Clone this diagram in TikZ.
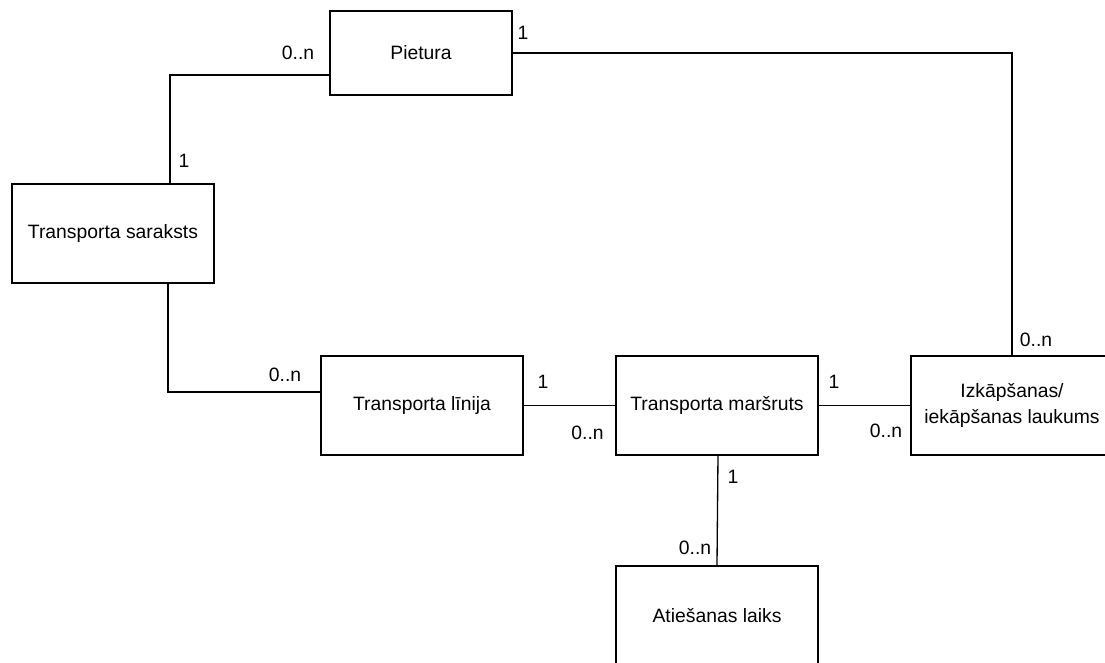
\documentclass[tikz,border=0pt]{standalone}
\usepackage{fontspec}
\setmainfont{Liberation Sans}
\usetikzlibrary{positioning,calc}

\begin{document}
\begin{tikzpicture}[
  font=\fontsize{11}{15}\selectfont,
  line width=0.75pt,
  entity/.style={draw,rectangle,align=center,inner sep=0pt,
    minimum width=4.04cm,minimum height=1.98cm},
  mult/.style={inner sep=0pt},
]
\clip (0,0) rectangle (22.1,13.24);

% entities
\node[entity,minimum width=3.64cm,minimum height=1.68cm] (pietura) at (8.42,12.18) {Pietura};
\node[entity] (saraksts) at (2.26,8.57) {Transporta saraksts};
\node[entity] (linija) at (8.44,5.13) {Transporta līnija};
\node[entity] (marsruts) at (14.34,5.13) {Transporta maršruts};
\node[entity] (laukums) at (20.24,5.13) {Izkāpšanas/\\iekāpšanas laukums};
\node[entity] (laiks) at (14.34,0.93) {Atiešanas laiks};

% relations
\draw ([yshift=-0.44cm]pietura.west) -| ([xshift=1.14cm]saraksts.north);
\draw (pietura.east) -| (laukums.north);
\draw ([xshift=1.1cm]saraksts.south) |- ([yshift=0.27cm]linija.west);
\draw (linija.east) -- (marsruts.west);
\draw (marsruts.east) -- (laukums.west);
\draw ([xshift=0.02cm]marsruts.south) -- (laiks.north);

% multiplicities
\node[mult] (m1) at (5.96,12.18) {0..n};
\node[mult] (m2) at (3.68,10.02) {1};
\node[mult] (m3) at (10.46,12.58) {1};
\node[mult] (m4) at (20.72,6.44) {0..n};
\node[mult] (m5) at (5.70,5.74) {0..n};
\node[mult] (m6) at (10.86,5.60) {1};
\node[mult] (m7) at (11.75,4.58) {0..n};
\node[mult] (m8) at (16.68,5.60) {1};
\node[mult] (m9) at (17.72,4.62) {0..n};
\node[mult] (m10) at (14.66,3.70) {1};
\node[mult] (m11) at (13.90,2.28) {0..n};

\end{tikzpicture}
\end{document}
